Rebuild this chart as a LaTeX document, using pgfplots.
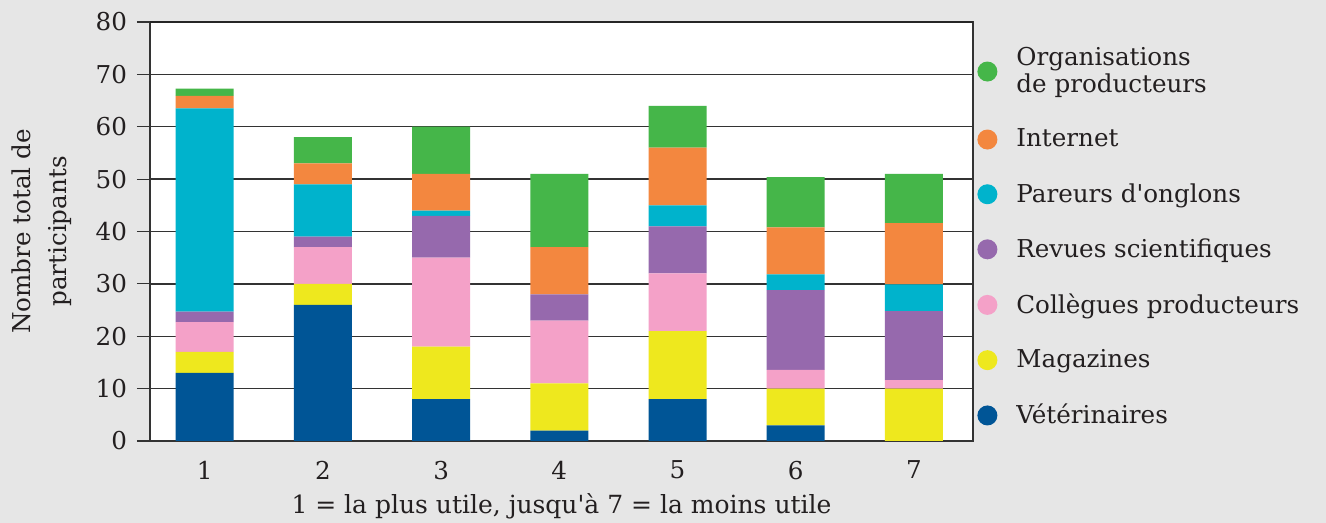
\documentclass[border=0pt]{standalone}
\usepackage{pgfplots}
\pgfplotsset{compat=1.18}
\usepackage{fontspec}
\setmainfont{DejaVu Serif}[Ligatures=TeXOff]
\definecolor{cOrg}{HTML}{45B649}
\definecolor{cInt}{HTML}{F3873F}
\definecolor{cPar}{HTML}{00B3CC}
\definecolor{cRev}{HTML}{9669AD}
\definecolor{cCol}{HTML}{F4A1C8}
\definecolor{cMag}{HTML}{EEE81E}
\definecolor{cVet}{HTML}{005596}
\definecolor{bgc}{HTML}{E6E6E6}
\definecolor{txt}{HTML}{231F20}
\begin{document}
\begin{tikzpicture}
\fill[bgc] (-75pt,-41pt) rectangle (588pt,220.5pt);
\path[use as bounding box] (-75pt,-41pt) rectangle (588pt,220.5pt);
\begin{axis}[
  scale only axis, width=411.5pt, height=209.5pt,
  ybar stacked, bar width=29pt,
  xmin=0.537, xmax=7.5, ymin=0, ymax=80,
  xtick={1,...,7}, ytick={0,10,...,80},
  ytick pos=left,
  x tick style={draw=none},
  y tick style={draw=black!80, line width=0.6pt},
  major tick length=6.5pt, tick align=outside,
  ymajorgrids, grid style={black!80, line width=0.7pt},
  axis background/.style={fill=white},
  axis line style={black!80, line width=0.7pt},
  tick label style={font=\fontsize{12.3}{14}\selectfont, text=txt},
  yticklabel style={xshift=-1.5pt},
  /pgf/number format/assume math mode=true,
  xlabel={1 = la plus utile, jusqu'à 7 = la moins utile},
  xlabel style={font=\fontsize{12.5}{14}\selectfont, text=txt},
  ylabel={Nombre total de\\participants},
  ylabel style={align=center, font=\fontsize{12.3}{18}\selectfont, text=txt,
    at={(axis description cs:-0.132,0.5)}, anchor=center},
  reverse legend,
  legend cell align=left,
  legend style={at={(1,1)}, anchor=north west, draw=none, fill=none,
    font=\fontsize{12.3}{13.5}\selectfont, text=txt, row sep=12.7pt,
    cells={align=left}, xshift=-1pt, yshift=-8.5pt},
  legend image code/.code={\fill[#1,draw=none] (0cm,0cm) circle (5pt); \path (12.5pt,0pt);},
  after end axis/.code={\draw[black!85, line width=1.3pt] (rel axis cs:0,1) -- (rel axis cs:1,1);},
]
\addplot[fill=cVet, draw=none] coordinates {(1,13) (2,26) (3,8) (4,2) (5,8) (6,3) (7,0)};
\addplot[fill=cMag, draw=none] coordinates {(1,4) (2,4) (3,10) (4,9) (5,13) (6,7) (7,10)};
\addplot[fill=cCol, draw=none] coordinates {(1,5.7) (2,7) (3,17) (4,12) (5,11) (6,3.6) (7,1.6)};
\addplot[fill=cRev, draw=none] coordinates {(1,2) (2,2) (3,8) (4,5) (5,9) (6,15.2) (7,13.2)};
\addplot[fill=cPar, draw=none] coordinates {(1,38.8) (2,10) (3,1) (4,0) (5,4) (6,3) (7,5.1)};
\addplot[fill=cInt, draw=none] coordinates {(1,2.4) (2,4) (3,7) (4,9) (5,11) (6,9) (7,11.7)};
\addplot[fill=cOrg, draw=none] coordinates {(1,1.4) (2,5) (3,9) (4,14) (5,8) (6,9.6) (7,9.4)};
\legend{Vétérinaires, Magazines, Collègues producteurs, Revues scientifiques, Pareurs d'onglons, Internet, {Organisations\\de producteurs}}
\end{axis}
\end{tikzpicture}
\end{document}
